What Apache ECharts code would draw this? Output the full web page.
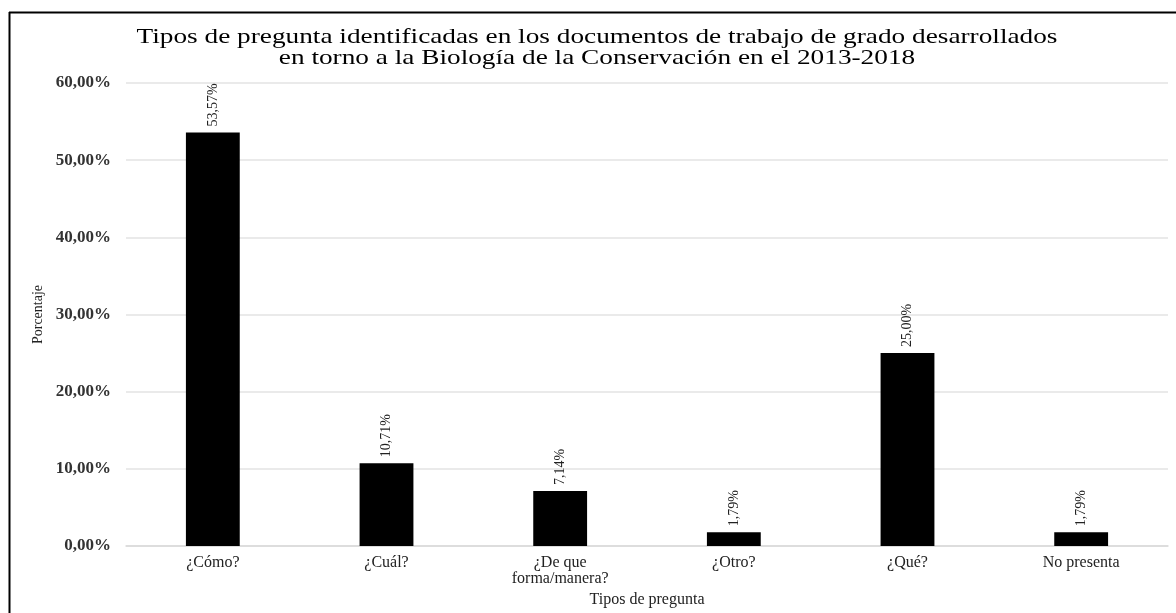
<!DOCTYPE html>
<html>
<head>
<meta charset="utf-8">
<script src="https://cdn.jsdelivr.net/npm/echarts@6/dist/echarts.min.js"></script>
<style>html,body{margin:0;padding:0;background:#fff;}#c{width:1176px;height:613px;}</style>
</head>
<body>
<div id="c"></div>
<script>
const titleText = 'Tipos de pregunta identificadas en los documentos de trabajo de grado desarrollados\nen torno a la Biología de la Conservación en el 2013-2018';
const categories = ['¿Cómo?', '¿Cuál?', '¿De que\nforma/manera?', '¿Otro?', '¿Qué?', 'No presenta'];
const values = [53.57, 10.71, 7.14, 1.79, 25.00, 1.79];
const yTicks = [0, 10, 20, 30, 40, 50, 60];

const fmt = v => v.toFixed(2).replace('.', ',') + '%';
const serif = '"Liberation Serif", "DejaVu Serif", serif';

const chart = echarts.init(document.getElementById('c'));
chart.setOption({
  animation: false,
  backgroundColor: '#fff',
  graphic: [
    { type: 'line', shape: { x1: 9, y1: 12.5, x2: 1176, y2: 12.5 }, style: { stroke: '#000', lineWidth: 2 } },
    { type: 'line', shape: { x1: 9.5, y1: 12, x2: 9.5, y2: 613 }, style: { stroke: '#000', lineWidth: 2 } },
    { type: 'text', x: 597, y: 27, scaleX: 1.24,
      style: { text: titleText, font: '22px ' + serif, fill: '#000', textAlign: 'center', textVerticalAlign: 'top', lineHeight: 21 } }
  ],
  grid: { left: 126, right: 8, top: 83, bottom: 67 },
  xAxis: {
    type: 'category', data: categories,
    axisLine: { show: true, lineStyle: { color: '#d9d9d9', width: 1.5 } },
    axisTick: { show: false },
    axisLabel: { fontFamily: serif, fontSize: 16, color: '#222', margin: 9, lineHeight: 16, interval: 0 },
    name: 'Tipos de pregunta', nameLocation: 'middle', nameGap: 45,
    nameTextStyle: { fontFamily: serif, fontSize: 16, color: '#222' }
  },
  yAxis: {
    type: 'value', min: yTicks[0], max: yTicks[yTicks.length - 1], interval: 10,
    axisLine: { show: false }, axisTick: { show: false },
    splitLine: { lineStyle: { color: '#e3e3e3', width: 1.5 } },
    axisLabel: { fontFamily: serif, fontSize: 17, fontWeight: 'bold', color: '#333', margin: 15, formatter: v => fmt(v) },
    name: 'Porcentaje', nameLocation: 'middle', nameGap: 78, nameRotate: 90,
    nameTextStyle: { fontFamily: serif, fontSize: 14, color: '#222' }
  },
  series: [{
    type: 'bar', data: values, barWidth: '31%',
    itemStyle: { color: '#000' },
    label: {
      show: true, position: 'top', rotate: 90, distance: 6, align: 'left', verticalAlign: 'middle',
      fontFamily: serif, fontSize: 14, color: '#222',
      formatter: p => fmt(p.value)
    }
  }]
});
</script>
</body>
</html>
